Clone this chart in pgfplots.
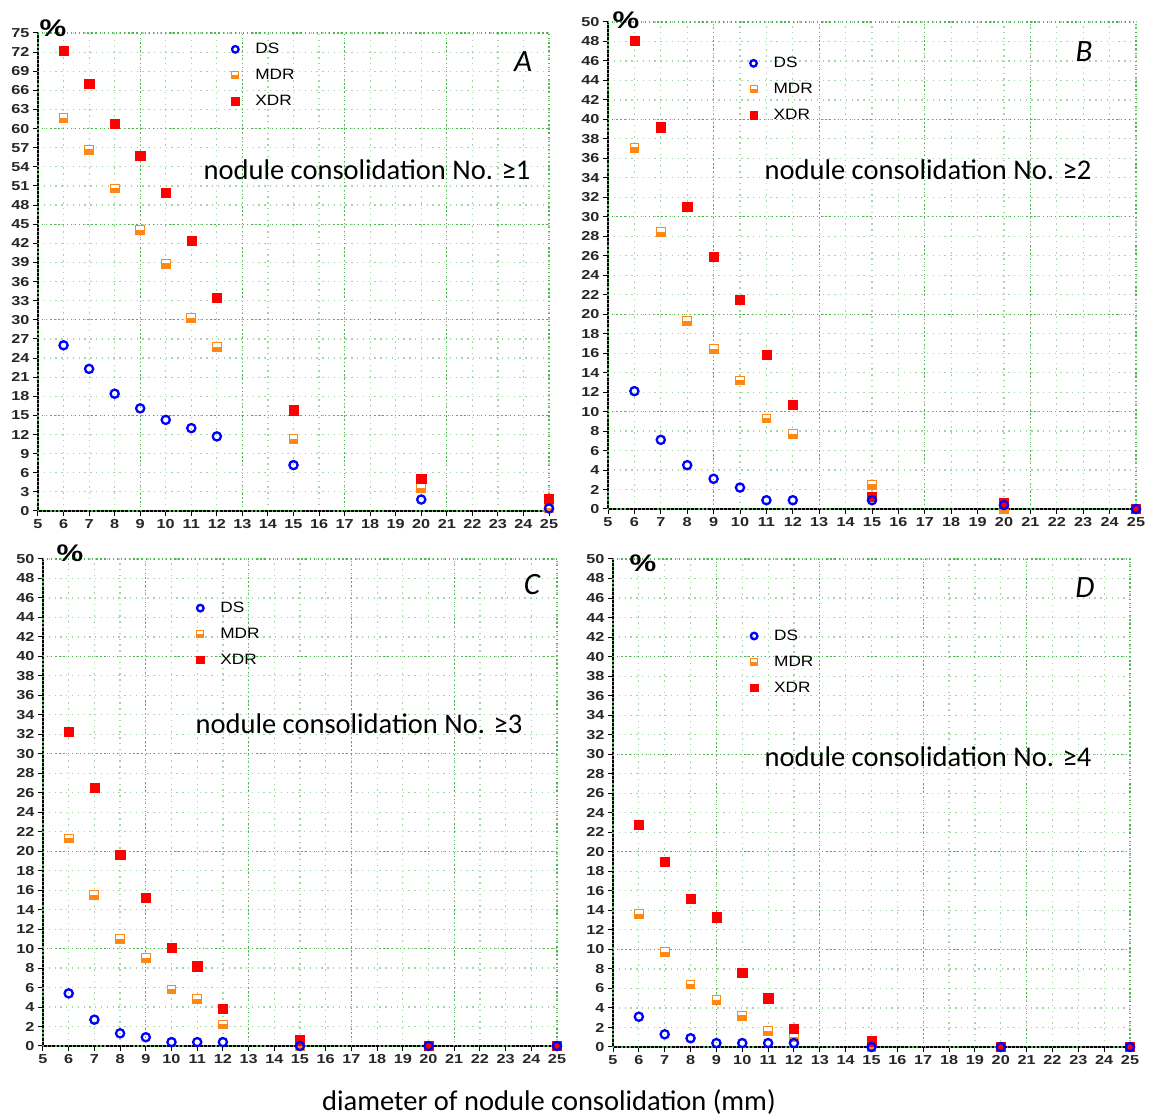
\documentclass[border=0pt]{standalone}
\usepackage{fontspec}
\usepackage{pgfplots}
\pgfplotsset{compat=1.18}
\usetikzlibrary{plotmarks}
\setmainfont{Carlito}
\newfontfamily\tickfont[FakeStretch=1.25]{Liberation Sans}
\newfontfamily\legfont[FakeStretch=1.15]{Liberation Sans}
\definecolor{dsblue}{RGB}{0,0,255}
\definecolor{mdrorange}{RGB}{255,135,20}
\definecolor{xdrred}{RGB}{255,0,0}
\definecolor{gridmaj}{RGB}{80,180,80}
\definecolor{gridmin}{RGB}{165,215,165}
\pgfdeclareplotmark{mdrsq}{%
  \pgfpathrectangle{\pgfpoint{-\pgfplotmarksize}{-\pgfplotmarksize}}{\pgfpoint{2\pgfplotmarksize}{2\pgfplotmarksize}}%
  \pgfsetfillcolor{white}\pgfusepath{fill,stroke}%
  \pgfpathrectangle{\pgfpoint{-\pgfplotmarksize}{-\pgfplotmarksize}}{\pgfpoint{2\pgfplotmarksize}{0.95\pgfplotmarksize}}%
  \pgfsetfillcolor{mdrorange}\pgfusepath{fill,stroke}%
}
\pgfplotsset{
 panel/.style={
  scale only axis, clip=false,
  xmin=5,xmax=25, xtick={5,6,...,25},
  axis x line*=bottom, axis y line*=left,
  axis line style={black, line width=1.8pt, -},
  tick align=outside, major tick length=5pt,
  tick style={black, line width=1pt},
  tick label style={font=\fontsize{13}{13}\tickfont\bfseries, text=black!85},
  /pgf/number format/assume math mode=true,
  xmajorgrids, ymajorgrids,
  major grid style={color=gridmin, line width=1.2pt, dash pattern=on 1.3pt off 4.5pt},
  extra x ticks={5,9,...,25}, extra x tick labels={},
  extra y tick labels={},
  extra tick style={major grid style={color=gridmaj, line width=1.2pt, dash pattern=on 1.3pt off 2.8pt}, major tick length=0pt},
  legend style={draw=none, fill=none, font=\fontsize{15}{15}\legfont, anchor=north west, row sep=12pt, nodes={inner sep=1pt},
    /tikz/every odd column/.append style={column sep=15pt}},
  legend cell align=left,
  legend image code/.code={\draw[mark repeat=2,mark phase=2,#1,/tikz/every mark/.append style={scale=0.8}] plot coordinates {(-6pt,0pt)(0pt,0pt)(6pt,0pt)};},
 },
 panel50/.style={ymin=0,ymax=50,ytick={0,2,...,50},extra y ticks={0,10,...,50}},
 ds/.style={only marks, mark=o, mark size=4.1pt, mark options={draw=dsblue, line width=2.3pt, solid}},
 mdr/.style={only marks, mark=mdrsq, mark size=4.4pt, mark options={draw=mdrorange, line width=1pt, solid}},
 xdr/.style={only marks, mark=square*, mark size=4.6pt, mark options={draw=xdrred, fill=xdrred, line width=0.4pt, solid}},
}
\newcommand\legimgs{\addlegendimage{ds}\addlegendimage{mdr}\addlegendimage{xdr}\legend{DS,MDR,XDR}}
\begin{document}
\begin{tikzpicture}
\path[use as bounding box] (0,0) rectangle (1152pt,1116pt);
% Panel A
\begin{axis}[panel, at={(38pt,605pt)}, anchor=south west, width=511pt, height=478pt,
  ymin=0,ymax=75,ytick={0,3,...,75},extra y ticks={0,15,...,75},
  legend style={at={(0.372,0.985)}}]
\legimgs
\addplot[mdr, forget plot] coordinates {(6,61.6)(7,56.7)(8,50.6)(9,44.1)(10,38.8)(11,30.3)(12,25.7)(15,11.3)(20,3.6)(25,0.4)};
\addplot[xdr, forget plot] coordinates {(6,72.2)(7,67.1)(8,60.8)(9,55.7)(10,50.0)(11,42.4)(12,33.5)(15,15.8)(20,5.1)(25,1.9)};
\addplot[ds, forget plot] coordinates {(6,26.0)(7,22.3)(8,18.4)(9,16.1)(10,14.3)(11,13.0)(12,11.7)(15,7.2)(20,1.8)(25,0.4)};
\end{axis}
% Panel B
\begin{axis}[panel, panel50, at={(608pt,607pt)}, anchor=south west, width=528pt, height=487pt,
  legend style={at={(0.262,0.934)}}]
\legimgs
\addplot[mdr, forget plot] coordinates {(6,37.1)(7,28.4)(8,19.3)(9,16.4)(10,13.2)(11,9.3)(12,7.7)(15,2.5)(20,0)(25,0)};
\addplot[xdr, forget plot] coordinates {(6,48.1)(7,39.2)(8,31.0)(9,25.9)(10,21.5)(11,15.8)(12,10.7)(15,1.3)(20,0.6)(25,0)};
\addplot[ds, forget plot] coordinates {(6,12.1)(7,7.1)(8,4.5)(9,3.1)(10,2.2)(11,0.9)(12,0.9)(15,0.9)(20,0.4)(25,0)};
\end{axis}
% Panel C
\begin{axis}[panel, panel50, at={(43pt,70pt)}, anchor=south west, width=514pt, height=487pt,
  legend style={at={(0.292,0.918)}}]
\legimgs
\addplot[mdr, forget plot] coordinates {(6,21.3)(7,15.5)(8,11.0)(9,9.0)(10,5.8)(11,4.8)(12,2.2)(15,0)(20,0)(25,0)};
\addplot[xdr, forget plot] coordinates {(6,32.3)(7,26.5)(8,19.6)(9,15.2)(10,10.1)(11,8.2)(12,3.8)(15,0.6)(20,0)(25,0)};
\addplot[ds, forget plot] coordinates {(6,5.4)(7,2.7)(8,1.3)(9,0.9)(10,0.4)(11,0.4)(12,0.4)(15,0)(20,0)(25,0)};
\end{axis}
% Panel D
\begin{axis}[panel, panel50, at={(613pt,69pt)}, anchor=south west, width=517pt, height=488pt,
  legend style={at={(0.259,0.861)}}]
\legimgs
\addplot[mdr, forget plot] coordinates {(6,13.6)(7,9.7)(8,6.4)(9,4.8)(10,3.2)(11,1.6)(12,1.0)(15,0)(20,0)(25,0)};
\addplot[xdr, forget plot] coordinates {(6,22.8)(7,19.0)(8,15.2)(9,13.3)(10,7.6)(11,5.0)(12,1.9)(15,0.6)(20,0)(25,0)};
\addplot[ds, forget plot] coordinates {(6,3.1)(7,1.3)(8,0.9)(9,0.4)(10,0.4)(11,0.4)(12,0.4)(15,0)(20,0)(25,0)};
\end{axis}
% annotations
\begin{scope}[every node/.style={inner sep=0pt}]
\node[font=\fontsize{31}{31}\selectfont\itshape] at (523pt,1054pt) {A};
\node[font=\fontsize{31}{31}\selectfont\itshape] at (1084pt,1064pt) {B};
\node[font=\fontsize{31}{31}\selectfont\itshape] at (532pt,531pt) {C};
\node[font=\fontsize{31}{31}\selectfont\itshape] at (1085pt,528pt) {D};
\node[font=\fontsize{28.5}{28.5}\selectfont] at (367pt,946pt) {nodule consolidation No. ≥1};
\node[font=\fontsize{28.5}{28.5}\selectfont] at (928pt,946pt) {nodule consolidation No. ≥2};
\node[font=\fontsize{28.5}{28.5}\selectfont] at (359pt,392pt) {nodule consolidation No. ≥3};
\node[font=\fontsize{28.5}{28.5}\selectfont] at (928pt,359pt) {nodule consolidation No. ≥4};
\node[font=\fontsize{28.5}{28.5}\selectfont] at (549pt,14pt) {diameter of nodule consolidation (mm)};
\node[font=\fontsize{24}{24}\tickfont\bfseries] at (53pt,1088pt) {\%};
\node[font=\fontsize{24}{24}\tickfont\bfseries] at (626pt,1096pt) {\%};
\node[font=\fontsize{24}{24}\tickfont\bfseries] at (70pt,563pt) {\%};
\node[font=\fontsize{24}{24}\tickfont\bfseries] at (643pt,553pt) {\%};
\end{scope}
\end{tikzpicture}
\end{document}
